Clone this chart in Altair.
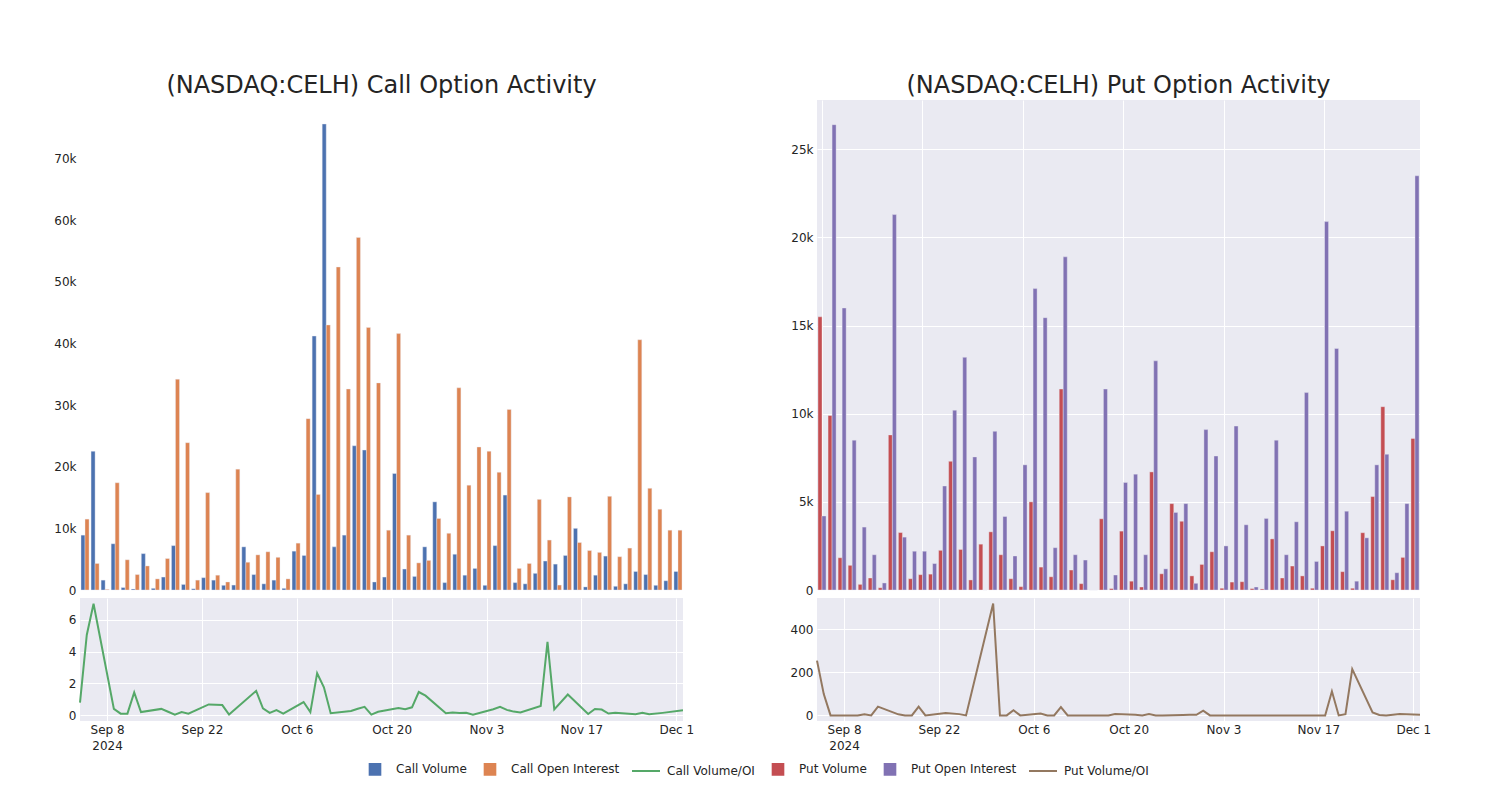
import altair as alt
import pandas as pd

dates = ["2024-09-04","2024-09-05","2024-09-06","2024-09-09","2024-09-10","2024-09-11","2024-09-12","2024-09-13","2024-09-16","2024-09-17",
         "2024-09-18","2024-09-19","2024-09-20","2024-09-23","2024-09-25","2024-09-26","2024-09-30","2024-10-01","2024-10-02","2024-10-03",
         "2024-10-04","2024-10-07","2024-10-08","2024-10-09","2024-10-10","2024-10-11","2024-10-14","2024-10-15","2024-10-16","2024-10-17",
         "2024-10-18","2024-10-21","2024-10-22","2024-10-23","2024-10-24","2024-10-25","2024-10-28","2024-10-29","2024-10-30","2024-10-31",
         "2024-11-01","2024-11-04","2024-11-05","2024-11-06","2024-11-07","2024-11-08","2024-11-11","2024-11-12","2024-11-13","2024-11-15",
         "2024-11-18","2024-11-19","2024-11-20","2024-11-21","2024-11-22","2024-11-25","2024-11-26","2024-11-27","2024-11-29","2024-12-02"]

call_volume = [8900, 22500, 1600, 7500, 400, 160, 5900, 270, 2100, 7200,
               900, 200, 2000, 1600, 760, 800, 7000, 2500, 1000, 1600,
               270, 6300, 5600, 41200, 75600, 7000, 8900, 23400, 22700, 1300,
               2100, 18900, 3400, 2200, 7000, 14300, 1200, 5800, 2400, 3500,
               760, 7200, 15400, 1200, 1000, 2700, 4700, 4200, 5600, 10000,
               500, 2400, 5500, 600, 1000, 3000, 2500, 760, 1500, 3000]
call_oi = [11500, 4300, 100, 17400, 4900, 2500, 3900, 1800, 5100, 34200,
           23900, 1600, 15800, 2400, 1300, 19600, 4500, 5700, 6200, 5300,
           1800, 7600, 27800, 15500, 43000, 52400, 32600, 57200, 42600, 33600,
           9700, 41600, 8900, 4400, 4800, 11600, 9200, 32800, 17000, 23200,
           22500, 19100, 29300, 3500, 4300, 14700, 8100, 800, 15100, 7700,
           6400, 6100, 15200, 5400, 6800, 40600, 16500, 13100, 9700, 9700]
call_ratio = [0.79, 5.04, 7.0, 0.4, 0.1, 0.1, 1.43, 0.2, 0.4, 0.22,
              0.04, 0.2, 0.1, 0.68, 0.64, 0.04, 1.53, 0.43, 0.15, 0.32,
              0.1, 0.83, 0.2, 2.64, 1.76, 0.13, 0.27, 0.41, 0.53, 0.04,
              0.22, 0.45, 0.38, 0.5, 1.46, 1.23, 0.13, 0.18, 0.14, 0.15,
              0.03, 0.38, 0.53, 0.34, 0.23, 0.18, 0.58, 4.6, 0.37, 1.3,
              0.08, 0.39, 0.36, 0.11, 0.15, 0.07, 0.15, 0.06, 0.15, 0.31]

put_volume = [15500, 9900, 1830, 1400, 320, 680, 130, 8800, 3260, 640,
              870, 900, 2250, 7300, 2300, 570, 2600, 3300, 2000, 640,
              190, 5000, 1300, 750, 11400, 1130, 360, 0, 4040, 80,
              3340, 500, 170, 6700, 920, 4900, 3900, 800, 1450, 2170,
              100, 450, 470, 80, 60, 2900, 680, 1360, 800, 100,
              2500, 3360, 1040, 100, 3250, 5300, 10400, 580, 1850, 8600]
put_oi = [4200, 26400, 16000, 8500, 3570, 2000, 400, 21300, 3000, 2200,
          2200, 1500, 5900, 10200, 13200, 7550, 0, 9000, 4170, 1930,
          7100, 17100, 15450, 2400, 18900, 2000, 1700, 0, 11400, 850,
          6100, 6570, 2000, 13000, 1200, 4400, 4900, 380, 9100, 7600,
          2500, 9300, 3700, 170, 4060, 8500, 2000, 3870, 11200, 1620,
          20900, 13700, 4470, 500, 2960, 7100, 7700, 980, 4900, 23500]
put_ratio = [255, 99, 0, 0, 0, 5, 0, 41, 5, 0,
             0, 41, 0, 11, 6, 0, 520, 0, 0, 24,
             0, 9, 0, 0, 39, 0, 0, 0, 0, 0,
             6, 3, 0, 6, 0, 0, 2, 3, 3, 22,
             0, 0, 0, 0, 0, 0, 0, 0, 0, 0,
             0, 112, 0, 6, 215, 14, 2, 0, 6, 3]

series = ["Call Volume", "Call Open Interest", "Call Volume/OI",
          "Put Volume", "Put Open Interest", "Put Volume/OI"]
colors = ["#4C72B0", "#DD8452", "#55A868", "#C44E52", "#8172B3", "#937860"]
kinds = ["Volume", "Open Interest"]
SQ = "M-0.38,-0.38H0.38V0.38H-0.38Z"
LN = "M-1,0H1"
shapes = [SQ, SQ, LN, SQ, SQ, LN]

fill_scale = alt.Scale(domain=series, range=colors)
stroke_scale = alt.Scale(domain=series, range=colors)
shape_scale = alt.Scale(domain=series, range=shapes)

tick_dates = [(9, 8), (9, 22), (10, 6), (10, 20), (11, 3), (11, 17), (12, 1)]

legend = alt.Legend(
    title=None, orient="none", direction="horizontal", legendX=280, legendY=654,
    labelFont="DejaVu Sans", labelFontSize=12, labelColor="#242424",
    symbolSize=784, labelOffset=6, columnPadding=8, symbolStrokeWidth=2,
    symbolOpacity=1,
)


def bar_panel(vol, oi, vname, oname, ymax, yticks, title, with_legend=False):
    df = pd.DataFrame({
        "day": dates + dates,
        "kind": [kinds[0]] * len(dates) + [kinds[1]] * len(dates),
        "series": [vname] * len(dates) + [oname] * len(dates),
        "value": vol + oi,
    })
    bars = alt.Chart(df).mark_bar(stroke="#EAEAF2", strokeWidth=0.4).encode(
        x=alt.X("day:O", scale=alt.Scale(domain=dates, paddingInner=0.2, paddingOuter=0.1),
                axis=alt.Axis(values=dates[::10], labels=False, ticks=False, domain=False,
                              title=None, grid=True, bandPosition=0.5, minExtent=0, maxExtent=0,
                              labelPadding=0)),
        xOffset=alt.XOffset("kind:N", scale=alt.Scale(domain=kinds, paddingInner=0, paddingOuter=0)),
        y=alt.Y("value:Q", scale=alt.Scale(domain=[0, ymax], nice=False),
                axis=alt.Axis(values=yticks, title=None, minExtent=30, maxExtent=30,
                              labelExpr="datum.value == 0 ? '0' : (datum.value / 1000) + 'k'")),
        fill=alt.Fill("series:N", scale=fill_scale, legend=legend),
    )
    layers = [bars]
    if with_legend:
        key = alt.Chart(pd.DataFrame({"series": series})).transform_filter("false").mark_point(
            filled=True, opacity=1
        ).encode(
            fill=alt.Fill("series:N", scale=fill_scale, legend=legend),
            stroke=alt.Stroke("series:N", scale=stroke_scale, legend=legend),
            shape=alt.Shape("series:N", scale=shape_scale, legend=legend),
        )
        layers.append(key)
    return alt.layer(*layers, title=alt.Title(title, anchor="middle")).properties(width=603, height=490)


def line_panel(ratio, name, ydom, yticks):
    df = pd.DataFrame({"date": dates, "series": [name] * len(dates), "value": ratio})
    return alt.Chart(df).mark_line(strokeWidth=2).encode(
        x=alt.X("date:T",
                scale=alt.Scale(type="utc",
                                domain=[alt.DateTime(year=2024, month=9, date=4, utc=True),
                                        alt.DateTime(year=2024, month=12, date=2, utc=True)]),
                axis=alt.Axis(values=[alt.DateTime(year=2024, month=m, date=d, utc=True) for m, d in tick_dates],
                              title=None, grid=True, ticks=False, domain=False, labelPadding=3,
                              labelLineHeight=16,
                              labelExpr="datum.index == 0 ? [utcFormat(datum.value, '%b %-d'), '2024'] : utcFormat(datum.value, '%b %-d')")),
        y=alt.Y("value:Q", scale=alt.Scale(domain=ydom, nice=False, zero=False),
                axis=alt.Axis(values=yticks, title=None, minExtent=30, maxExtent=30)),
        stroke=alt.Stroke("series:N", scale=stroke_scale, legend=legend),
    ).properties(width=603, height=123)


call_col = alt.vconcat(
    bar_panel(call_volume, call_oi, "Call Volume", "Call Open Interest", 79500,
              [0, 10000, 20000, 30000, 40000, 50000, 60000, 70000],
              "(NASDAQ:CELH) Call Option Activity", with_legend=True),
    line_panel(call_ratio, "Call Volume/OI", [-0.36, 7.36], [0, 2, 4, 6]),
    spacing=2,
)
put_col = alt.vconcat(
    bar_panel(put_volume, put_oi, "Put Volume", "Put Open Interest", 27800,
              [0, 5000, 10000, 15000, 20000, 25000],
              "(NASDAQ:CELH) Put Option Activity"),
    line_panel(put_ratio, "Put Volume/OI", [-26, 546], [0, 200, 400]),
    spacing=2,
)

chart = alt.hconcat(call_col, put_col, spacing=93).resolve_scale(
    fill="shared", stroke="shared", shape="shared", xOffset="independent", y="independent"
).properties(
    padding={"left": 42, "top": 66, "right": 5, "bottom": 5}
).configure_view(
    fill="#EAEAF2", strokeWidth=0
).configure_axis(
    labelFont="DejaVu Sans", labelFontSize=12, labelColor="#242424",
    gridColor="#FFFFFF", gridWidth=1, domain=False, ticks=False, labelPadding=4,
).configure_title(
    font="DejaVu Sans", fontSize=24, fontWeight="normal", color="#242424", offset=2,
)

chart.save("out.html", embed_options={"renderer": "svg", "actions": False})
